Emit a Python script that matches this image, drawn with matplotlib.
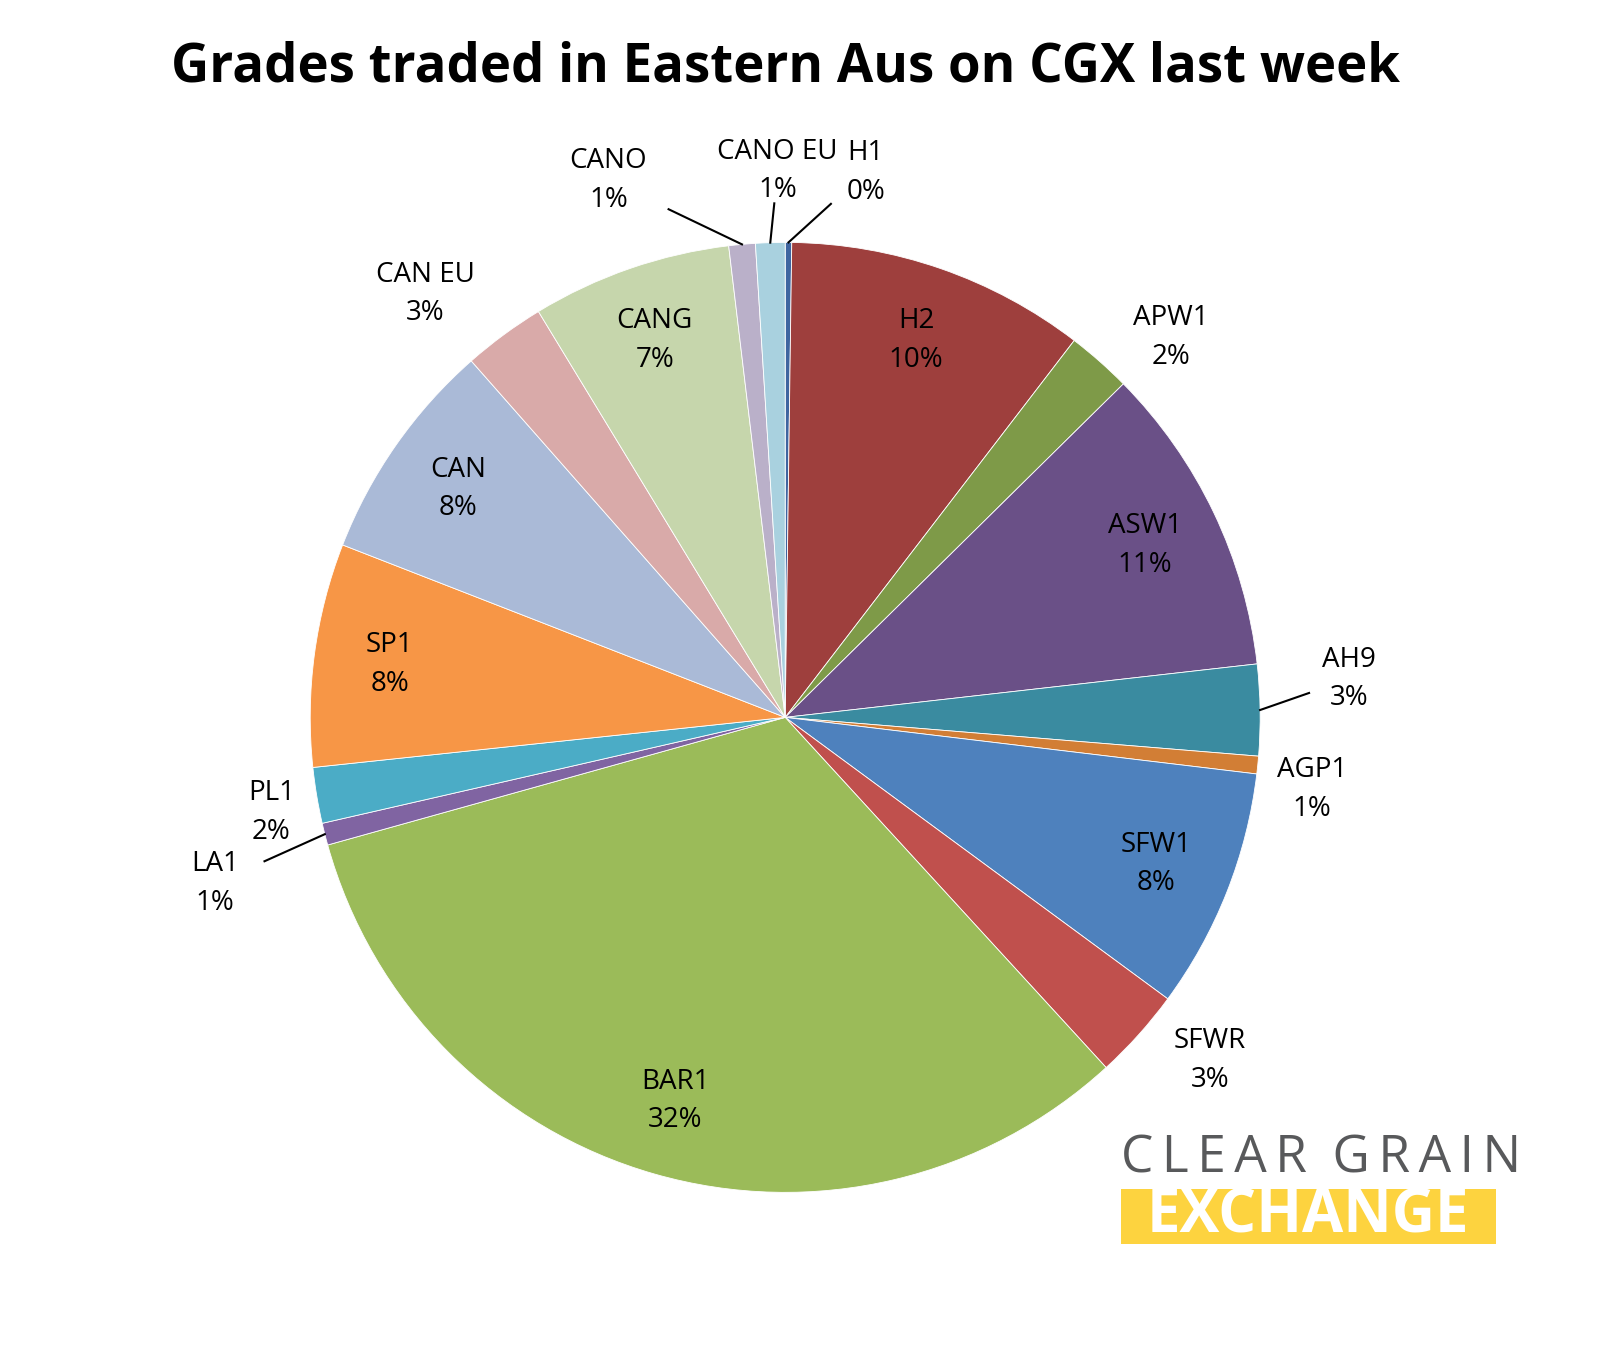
import numpy as np
import matplotlib
matplotlib.use('Agg')
import matplotlib.pyplot as plt
from matplotlib.patches import Rectangle

plt.rcParams['font.family'] = ['Open Sans', 'DejaVu Sans']

grades = ['H1', 'H2', 'APW1', 'ASW1', 'AH9', 'AGP1', 'SFW1', 'SFWR', 'BAR1',
          'LA1', 'PL1', 'SP1', 'CAN', 'CAN EU', 'CANG', 'CANO', 'CANO EU']
share = [0.22, 10.2, 2.2, 10.6, 3.1, 0.6, 8.2, 3.1, 32.5,
         0.75, 1.9, 7.6, 7.6, 2.8, 6.8, 0.9, 1.0]
colors = ['#3F65A0', '#9E3F3D', '#7E9A48', '#6A5087', '#3A8BA0', '#D27E35',
          '#4E81BD', '#C0504D', '#9BBB59', '#8064A2', '#4BACC6', '#F79646',
          '#AABAD7', '#D9AAA9', '#C6D6AC', '#BAB0C9', '#A9D1DF']
# label radius, angle offset (deg, counter-clockwise), leader line
lab_style = {
    'H1': (1.16, -8, True), 'APW1': (1.14, -4, False), 'AH9': (1.19, 3, True),
    'AGP1': (1.12, -2, False), 'SFWR': (1.15, 3, False), 'LA1': (1.25, 2, True),
    'PL1': (1.10, 1, False), 'CAN EU': (1.17, 4, False), 'CANO': (1.19, 13, True),
    'CANO EU': (1.15, -1, True),
}

fig = plt.figure(figsize=(16.09, 13.51), dpi=100)
ax = fig.add_axes([0.488 - 0.2952, 0.469 - 0.3516, 0.5904, 0.7032])
wedges, _ = ax.pie(share, colors=colors, startangle=90, counterclock=False,
                   wedgeprops=dict(edgecolor='white', linewidth=0.6))
ax.set_xlim(-1, 1)
ax.set_ylim(-1, 1)

tot = sum(share)
for w, g, v in zip(wedges, grades, share):
    mid = (w.theta1 + w.theta2) / 2
    r, off, leader = lab_style.get(g, (0.84, 0, False))
    a = np.radians(mid + off)
    tx, ty = r * np.cos(a), r * np.sin(a)
    pct = '%d%%' % round(v / tot * 100)
    ax.text(tx, ty, g + '\n' + pct, ha='center', va='center', fontsize=20,
            linespacing=1.5)
    if leader:
        m = np.radians(mid)
        x0, y0 = np.cos(m), np.sin(m)
        x1 = x0 + (tx - x0) * 0.55
        y1 = y0 + (ty - y0) * 0.55
        ax.plot([x0, x1], [y0, y1], color='black', lw=1.5, clip_on=False)

fig.text(0.488, 0.95, 'Grades traded in Eastern Aus on CGX last week',
         ha='center', va='center', fontsize=38, fontweight='bold')

# logo
fig.text(0.6965, 0.142, 'C L E A R   G R A I N'.replace(' ', '\u2009'), fontsize=37,
         color='#58595B', ha='left', va='center')
fig.patches.append(Rectangle((0.6965, 0.079), 0.233, 0.041, transform=fig.transFigure,
                             facecolor='#FDD33F', edgecolor='none'))
fig.text(0.8130, 0.0995, 'EXCHANGE', fontsize=43, color='white', fontweight='bold',
         ha='center', va='center')

fig.savefig('out.png', dpi=100, facecolor='white')
